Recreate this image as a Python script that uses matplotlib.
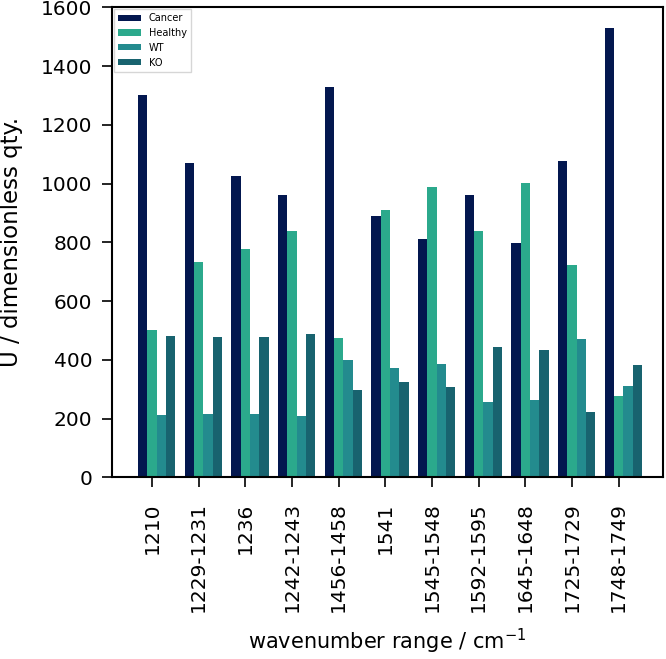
import matplotlib
matplotlib.use("Agg")
import matplotlib.pyplot as plt
import numpy as np

categories = ["1210", "1229-1231", "1236", "1242-1243", "1456-1458", "1541",
              "1545-1548", "1592-1595", "1645-1648", "1725-1729", "1748-1749"]
cancer  = [1303, 1069, 1026, 962, 1327, 890, 811, 962, 799, 1077, 1528]
healthy = [501, 732, 776, 839, 473, 910, 989, 839, 1002, 724, 276]
wt      = [212, 216, 216, 209, 399, 371, 387, 256, 264, 470, 312]
ko      = [482, 478, 478, 487, 296, 323, 307, 442, 434, 223, 382]

series = [("Cancer", cancer, "#03174f"),
          ("Healthy", healthy, "#2ba98c"),
          ("WT", wt, "#238b8e"),
          ("KO", ko, "#18636f")]

plt.rcParams['font.family'] = ['DejaVu Sans']

fig = plt.figure(figsize=(6.66, 6.59), dpi=100)
ax = fig.add_axes([0.168, 0.2757, 0.9955 - 0.168, 0.989 - 0.2757])

x = np.arange(len(categories))
w = 0.2
offsets = [-0.2, 0.0, 0.2, 0.4]
for (name, vals, col), off in zip(series, offsets):
    ax.bar(x + off, vals, width=w, color=col, label=name, linewidth=0)

ax.set_xlim(-0.86, 10.95)
ax.set_ylim(0, 1600)
ax.set_xticks(x)
ax.set_xticklabels(categories, rotation=90)
ax.set_yticks(np.arange(0, 1601, 200))
ax.tick_params(axis='both', labelsize=14.5, length=7, width=1.2, direction='out')
ax.tick_params(axis='x', pad=11)
ax.tick_params(axis='y', pad=7)
for s in ax.spines.values():
    s.set_linewidth(1.5)
    s.set_color('black')

ax.set_ylabel("U / dimensionless qty.", fontsize=16.5, labelpad=13)
ax.set_xlabel("wavenumber range / cm$^{-1}$", fontsize=15, labelpad=10)

leg = ax.legend(loc='upper left', fontsize=7, handlelength=2.4, handleheight=0.6,
                fancybox=False, edgecolor='#cccccc', borderaxespad=0.2,
                labelspacing=0.5)
leg.get_frame().set_linewidth(1.0)

fig.savefig("out.png", dpi=100)
